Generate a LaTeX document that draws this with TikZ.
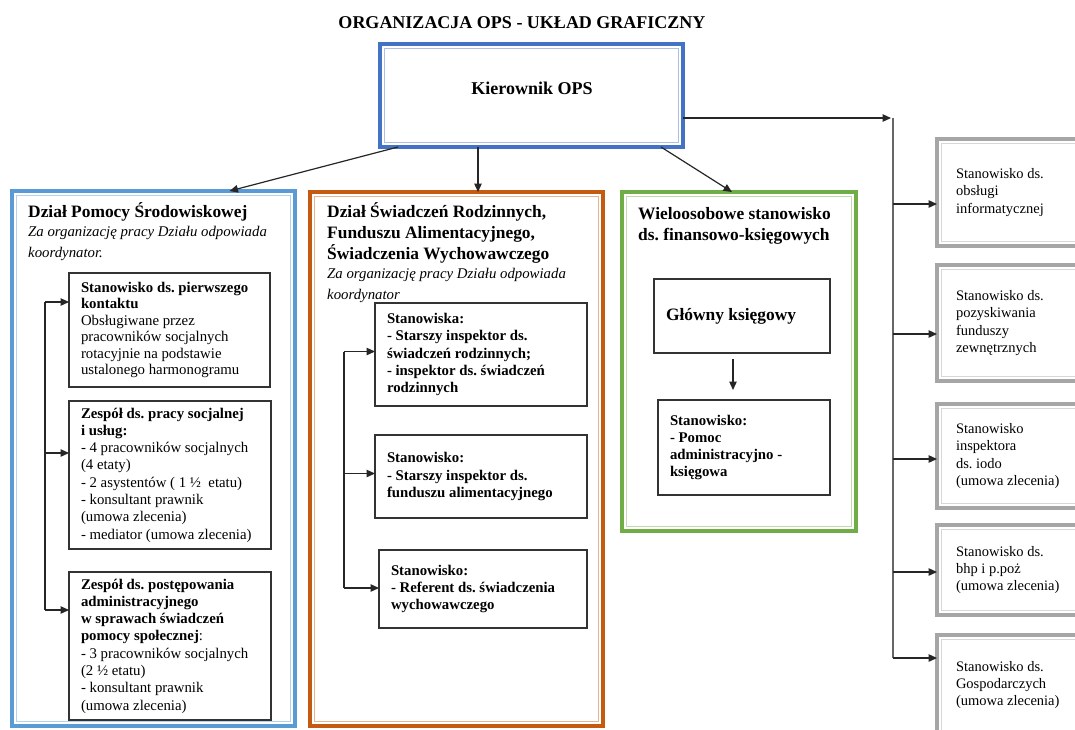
\documentclass[tikz,border=0pt]{standalone}
\usepackage{fontspec}
\setmainfont{Liberation Serif}
\usetikzlibrary{arrows.meta}
\frenchspacing

\definecolor{kblue}{RGB}{68,114,196}
\definecolor{lblue}{RGB}{91,155,213}
\definecolor{korange}{RGB}{197,90,17}
\definecolor{kgreen}{RGB}{112,173,71}
\definecolor{kgray}{RGB}{166,166,166}

\newcommand{\zanote}{\fontsize{14.8}{19.5}\selectfont\mdseries\itshape}

\begin{document}
\begin{tikzpicture}[
    x=1pt, y=-1pt,
    frame/.style={rectangle, anchor=north west, draw=#1, line width=4pt, inner sep=0pt, outer sep=0pt,
      path picture={\draw[#1!45, line width=1.2pt]
        ([shift={(4.3pt,-4.3pt)}]path picture bounding box.north west) rectangle
        ([shift={(-4.3pt,4.3pt)}]path picture bounding box.south east);}},
    box/.style={rectangle, anchor=north west, draw=black!80, line width=1.2pt, outer sep=0pt,
      inner xsep=12pt, inner ysep=0pt, align=flush left, font=\fontsize{14.8}{17.3}\selectfont\bfseries},
    side/.style={frame=kgray, minimum width=160pt, inner xsep=19pt, text width=122pt,
      align=flush left, font=\fontsize{14.5}{17.3}\selectfont},
    head/.style={anchor=north west, inner sep=0pt, text width=#1, align=flush left,
      font=\fontsize{17.4}{21}\selectfont\bfseries},
    line/.style={draw=black!85, line width=1.2pt},
    arr/.style={line, -{Triangle[length=8.5pt,width=7.5pt]}}
  ]
  \useasboundingbox (0,0) rectangle (1075,729);
  \clip (0,0) rectangle (1075,729);

  \node[font=\fontsize{18}{18}\selectfont\bfseries] (title) at (522,23) {ORGANIZACJA OPS - UKŁAD GRAFICZNY};

  % kierownik
  \node[frame=kblue, minimum width=303pt, minimum height=103pt] (kier) at (380,44) {};
  \node[font=\fontsize{18}{18}\selectfont\bfseries] (kiertxt) at (532,88) {Kierownik OPS};

  % dzialy
  \node[frame=lblue, minimum width=283pt, minimum height=535pt] (dps) at (12,191) {};
  \node[head=262pt] (dpstxt) at (28,202) {Dział Pomocy Środowiskowej\par
    \zanote Za organizację pracy Działu odpowiada\\ koordynator.};

  \node[frame=korange, minimum width=293pt, minimum height=534pt] (dsr) at (310,192) {};
  \node[head=272pt] (dsrtxt) at (327,202) {Dział Świadczeń Rodzinnych,\\ Funduszu Alimentacyjnego,\\ Świadczenia Wychowawczego\par
    \zanote Za organizację pracy Działu odpowiada\\ koordynator};

  \node[frame=kgreen, minimum width=234pt, minimum height=339pt] (dfk) at (622,192) {};
  \node[head=215pt] (dfktxt) at (638,207) {Wieloosobowe stanowisko\\ ds. finansowo-księgowych};

  % stanowiska - dzial pomocy
  \node[box, minimum width=201pt, minimum height=114pt, text width=177pt,
    font=\fontsize{14.8}{16.5}\selectfont\bfseries] (b1) at (69,273)
    {Stanowisko ds. pierwszego\\ kontaktu\\ \mdseries Obsługiwane przez\\ pracowników socjalnych\\ rotacyjnie na podstawie\\ ustalonego harmonogramu};
  \node[box, minimum width=202pt, minimum height=148pt, text width=178pt] (b2) at (69,401)
    {Zespół ds. pracy socjalnej\\ i usług:\\ \mdseries - 4 pracowników socjalnych\\ (4 etaty)\\ - 2 asystentów ( 1 ½~ etatu)\\ - konsultant prawnik\\ (umowa zlecenia)\\ - mediator (umowa zlecenia)};
  \node[box, minimum width=202pt, minimum height=148pt, text width=178pt] (b3) at (69,572)
    {Zespół ds. postępowania\\ administracyjnego\\ w sprawach świadczeń\\ pomocy społecznej\mdseries :\\ - 3 pracowników socjalnych\\ (2 ½ etatu)\\ - konsultant prawnik\\ (umowa zlecenia)};

  % stanowiska - dzial swiadczen
  \node[box, minimum width=212pt, minimum height=103pt, text width=188pt] (oA) at (375,303)
    {Stanowiska:\\ - Starszy inspektor ds.\\ świadczeń rodzinnych;\\ - inspektor ds. świadczeń\\ rodzinnych};
  \node[box, minimum width=212pt, minimum height=83pt, text width=188pt] (oB) at (375,435)
    {Stanowisko:\\ - Starszy inspektor ds.\\ funduszu alimentacyjnego};
  \node[box, minimum width=208pt, minimum height=78pt, text width=184pt] (oC) at (379,550)
    {Stanowisko:\\ - Referent ds. świadczenia\\ wychowawczego};

  % stanowiska finansowe
  \node[box, minimum width=176pt, minimum height=74pt, text width=152pt,
    font=\fontsize{17.4}{21}\selectfont\bfseries] (gk) at (654,279) {Główny księgowy};
  \node[box, minimum width=172pt, minimum height=95pt, text width=148pt] (gp) at (658,400)
    {Stanowisko:\\ - Pomoc\\ administracyjno -\\ księgowa};

  % stanowiska samodzielne
  \node[side, minimum height=107pt] (g1) at (937,139) {Stanowisko ds.\\ obsługi\\ informatycznej};
  \node[side, minimum height=116pt] (g2) at (937,265) {Stanowisko ds.\\ pozyskiwania\\ funduszy\\ zewnętrznych};
  \node[side, minimum height=104pt] (g3) at (937,404) {Stanowisko\\ inspektora\\ ds. iodo\\ (umowa zlecenia)};
  \node[side, minimum height=90pt] (g4) at (937,525) {Stanowisko ds.\\ bhp i p.poż\\ (umowa zlecenia)};
  \node[side, minimum height=100pt] (g5) at (937,635) {Stanowisko ds.\\ Gospodarczych\\ (umowa zlecenia)};

  % polaczenia
  \path ([xshift=98pt]kier.south west) coordinate (k2);
  \draw[arr] ([xshift=18pt]kier.south west) -- ([xshift=76pt]dps.north);
  \draw[arr] (k2) -- (k2 |- dsr.north);
  \draw[arr] ([xshift=-22pt]kier.south east) -- ([xshift=-7pt]dfk.north);

  \coordinate (bus) at (893,118);
  \draw[arr] ([yshift=-22.5pt]kier.east) -- ([xshift=-2pt]bus);
  \path ([yshift=-11.5pt]g1.west) coordinate (g1in)
        ([yshift=-11pt]g2.west) coordinate (g2in)
        ([yshift=-3pt]g3.west) coordinate (g3in)
        ([yshift=-2pt]g4.west) coordinate (g4in)
        ([yshift=27pt]g5.west) coordinate (g5in);
  \draw[line, draw=black!60] (bus) -- (bus |- g5in);
  \foreach \g in {g1in,g2in,g3in,g4in,g5in}
    \draw[arr] (bus |- \g) -- (\g);

  \coordinate (lb) at (45,0);
  \path ([yshift=28pt]b1.west) coordinate (b1in)
        ([yshift=22pt]b2.west) coordinate (b2in)
        ([yshift=36pt]b3.west) coordinate (b3in);
  \draw[line] (lb |- b1in) -- (lb |- b3in);
  \foreach \b in {b1in,b2in,b3in}
    \draw[arr] (lb |- \b) -- (\b);

  \coordinate (ob) at (344,0);
  \path ([yshift=3pt]oA.west) coordinate (oAin)
        ([yshift=3pt]oB.west) coordinate (oBin)
        ([yshift=1pt]oC.west) coordinate (oCin);
  \draw[line] (ob |- oAin) -- (ob |- oCin);
  \foreach \b in {oAin,oBin,oCin}
    \draw[arr] (ob |- \b) -- (\b);

  \path ([xshift=-9pt]gk.south) coordinate (gka);
  \draw[arr, shorten <=6pt, shorten >=10pt] (gka) -- (gka |- gp.north);
\end{tikzpicture}
\end{document}
